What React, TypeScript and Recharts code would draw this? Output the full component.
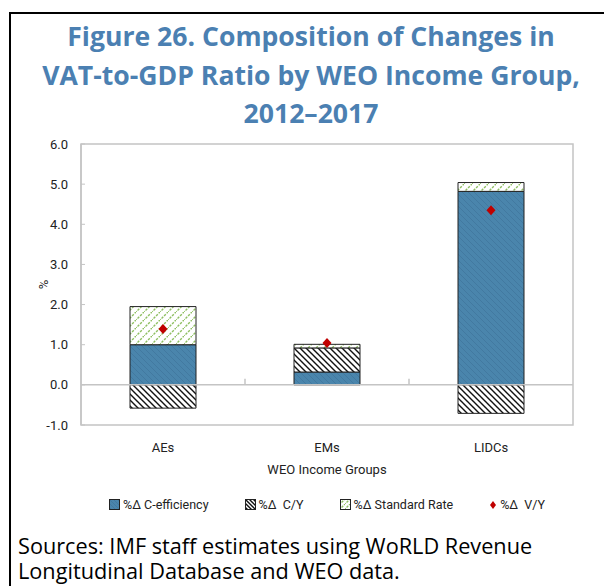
import React from 'react';
import { ComposedChart, Bar, Line, XAxis, YAxis, Legend, ReferenceLine, ReferenceArea } from 'recharts';

const groups = ['AEs', 'EMs', 'LIDCs'];
const cEfficiency = [1.0, 0.32, 4.82];
const cY = [-0.58, 0.6, -0.71];
const standardRate = [0.95, 0.09, 0.22];
const vY = [1.39, 1.04, 4.35];
const yTicks = [-1, 0, 1, 2, 3, 4, 5, 6];

const data = groups.map((g, i) => ({
  group: g,
  ceff: cEfficiency[i],
  cy: cY[i],
  std: standardRate[i],
  vy: vY[i],
}));

const BLUE = '#4a85ac';
const RED = '#c00000';
const GREEN = '#8fbf62';
const AXIS = '#c4c4c4';
const FONT = 'Roboto, "Liberation Sans", Arial, sans-serif';

// chart geometry
const W = 604;
const H = 530;
const M = { top: 144, right: 31, left: 5, bottom: 55 };
const Y_AXIS_W = 76;
const X_AXIS_H = 50;
const PLOT_W = W - M.left - M.right - Y_AXIS_W;
const PLOT_H = H - M.top - M.bottom - X_AXIS_H;
const Y_MIN = yTicks[0];
const Y_MAX = yTicks[yTicks.length - 1];
const ZERO_Y = M.top + (Y_MAX / (Y_MAX - Y_MIN)) * PLOT_H;

const Diamond = (props: any) => {
  const { cx, cy } = props;
  if (cx == null || cy == null) return null;
  return <polygon points={`${cx},${cy - 5} ${cx + 4.5},${cy} ${cx},${cy + 5} ${cx - 4.5},${cy}`} fill={RED} />;
};

// category label + small divider tick on the zero line (Excel style)
const CategoryTick = (props: any) => {
  const { x, y, payload, index } = props;
  const half = PLOT_W / groups.length / 2;
  return (
    <g>
      <text x={x} y={y} dy="0.71em" textAnchor="middle" fontFamily={FONT} fontSize={13} fill="#222">
        {payload.value}
      </text>
      {index < groups.length - 1 && (
        <line x1={x + half} x2={x + half} y1={ZERO_Y} y2={ZERO_Y - 6} stroke={AXIS} strokeWidth={1.5} />
      )}
    </g>
  );
};

const Swatch = ({ fill }: { fill: string }) => (
  <svg width={11} height={11} style={{ marginRight: 3 }}>
    <rect x={0.5} y={0.5} width={10} height={10} fill={fill} stroke="#222" />
  </svg>
);

const LegendContent = () => (
  <div style={{ display: 'flex', justifyContent: 'center', alignItems: 'center', gap: 36, fontFamily: FONT, fontSize: 12.5, color: '#222' }}>
    <span style={{ display: 'flex', alignItems: 'center' }}><Swatch fill="url(#ceffLegend)" />%Δ C-efficiency</span>
    <span style={{ display: 'flex', alignItems: 'center' }}><Swatch fill="url(#cyLegend)" />%Δ&nbsp; C/Y</span>
    <span style={{ display: 'flex', alignItems: 'center' }}><Swatch fill="url(#stdLegend)" />%Δ Standard Rate</span>
    <span style={{ display: 'flex', alignItems: 'center' }}>
      <svg width={8} height={10} style={{ marginRight: 3 }}>
        <polygon points="4,1 7,5 4,9 1,5" fill={RED} />
      </svg>
      %Δ&nbsp; V/Y
    </span>
  </div>
);

const Patterns = ({ suffix, step, gstep }: { suffix: string; step: number; gstep: number }) => (
  <>
    <pattern id={`ceff${suffix}`} patternUnits="userSpaceOnUse" width={step} height={step}>
      <rect width={step} height={step} fill={BLUE} />
      <path d={`M-1,-1 L${step + 1},${step + 1}`} stroke="#4279a0" strokeWidth={1} />
    </pattern>
    <pattern id={`cy${suffix}`} patternUnits="userSpaceOnUse" width={step} height={step}>
      <rect width={step} height={step} fill="#fff" />
      <path d={`M-1,-1 L${step + 1},${step + 1} M-1,${step - 1} L1,${step + 1} M${step - 1},-1 L${step + 1},1`} stroke="#111" strokeWidth={1.4} />
    </pattern>
    <pattern id={`std${suffix}`} patternUnits="userSpaceOnUse" width={gstep} height={gstep}>
      <rect width={gstep} height={gstep} fill="#fff" />
      <path d={`M-1,${gstep + 1} L${gstep + 1},-1`} stroke={GREEN} strokeWidth={1.4} strokeDasharray="2.4 1.2" />
    </pattern>
  </>
);

export default function App() {
  return (
    <div style={{ position: 'absolute', left: 0, top: 0, width: 604, height: 586, overflow: 'hidden', background: '#fff' }}>
      <div style={{ position: 'absolute', left: 9, top: 12, width: 640, height: 640, border: '2px solid #000' }} />
      <div
        style={{
          position: 'absolute',
          left: 10,
          top: 17,
          width: 602,
          textAlign: 'center',
          fontFamily: '"Open Sans", sans-serif',
          fontWeight: 700,
          fontSize: 26.6,
          lineHeight: '38.5px',
          color: '#4b80b2',
        }}
      >
        Figure 26. Composition of Changes in
        <br />
        VAT-to-GDP Ratio by WEO Income Group,
        <br />
        2012–2017
      </div>
      <div style={{ position: 'absolute', left: 0, top: 0 }}>
        <ComposedChart width={W} height={H} data={data} stackOffset="sign" margin={M}>
          <defs>
            <Patterns suffix="" step={6} gstep={8} />
            <Patterns suffix="Legend" step={4} gstep={5} />
          </defs>
          <ReferenceArea y1={Y_MIN} y2={Y_MAX} fill="none" stroke={AXIS} strokeWidth={1.5} ifOverflow="visible" />
          <XAxis
            dataKey="group"
            axisLine={false}
            tickLine={false}
            tickMargin={12}
            height={X_AXIS_H}
            tick={<CategoryTick />}
            label={{ value: 'WEO Income Groups', position: 'insideBottom', offset: 1, style: { fontFamily: FONT, fontSize: 13, fill: '#222' } }}
          />
          <YAxis
            domain={[Y_MIN, Y_MAX]}
            ticks={yTicks}
            width={Y_AXIS_W}
            tickFormatter={(v: number) => v.toFixed(1)}
            axisLine={{ stroke: AXIS, strokeWidth: 1.5 }}
            tickLine={{ stroke: AXIS }}
            tickSize={-4}
            tickMargin={17}
            tick={{ fontFamily: FONT, fontSize: 13, fill: '#222' }}
            label={{ value: '%', angle: -90, position: 'center', style: { fontFamily: FONT, fontSize: 13, fill: '#222' } }}
            interval={0}
          />
          <ReferenceLine y={0} stroke={AXIS} strokeWidth={1.5} />
          <Bar dataKey="ceff" stackId="a" fill="url(#ceff)" stroke="#222" strokeWidth={1} barSize={66} isAnimationActive={false} />
          <Bar dataKey="cy" stackId="a" fill="url(#cy)" stroke="#222" strokeWidth={1} barSize={66} isAnimationActive={false} />
          <Bar dataKey="std" stackId="a" fill="url(#std)" stroke="#222" strokeWidth={1} barSize={66} isAnimationActive={false} />
          <Line dataKey="vy" stroke="none" dot={<Diamond />} activeDot={false} legendType="none" isAnimationActive={false} />
          <Legend verticalAlign="middle" align="center" content={<LegendContent />} wrapperStyle={{ top: 497, left: 81, width: 492 }} />
        </ComposedChart>
      </div>
      <div style={{ position: 'absolute', left: 18, top: 533, fontFamily: '"Open Sans", sans-serif', fontSize: 21.7, color: '#000' }}>
        <div style={{ height: 25, lineHeight: '25px', whiteSpace: 'nowrap' }}>Sources: IMF staff estimates using WoRLD Revenue</div>
        <div style={{ height: 25, lineHeight: '25px', whiteSpace: 'nowrap' }}>Longitudinal Database and WEO data.</div>
      </div>
    </div>
  );
}
